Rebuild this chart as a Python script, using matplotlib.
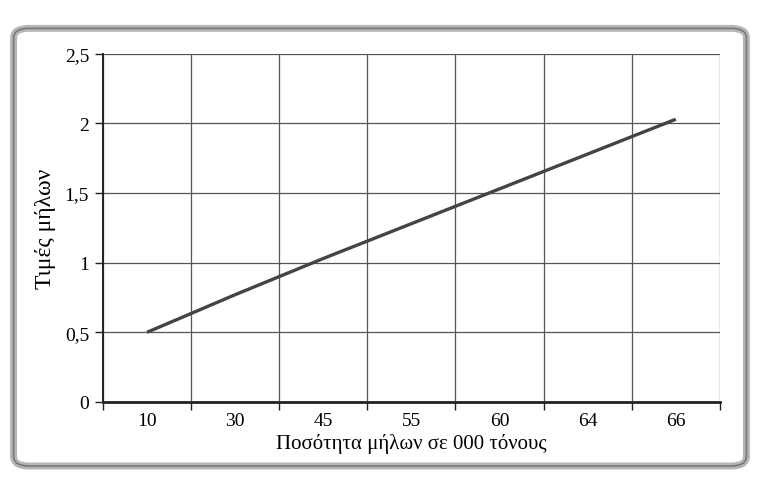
import matplotlib
matplotlib.use("Agg")
import matplotlib.pyplot as plt
from matplotlib.patches import FancyBboxPatch
from matplotlib.ticker import FuncFormatter, FixedLocator, NullFormatter

# Apple quantity (thousand tonnes) and apple prices
quantities = ["10", "30", "45", "55", "60", "64", "66"]
prices = [0.5, 0.77, 1.03, 1.28, 1.53, 1.78, 2.03]
y_ticks = [0, 0.5, 1, 1.5, 2, 2.5]

plt.rcParams["font.family"] = ["Liberation Serif", "DejaVu Serif"]

fig = plt.figure(figsize=(7.57, 4.89), dpi=100)
fig.patch.set_facecolor("white")

# rounded outer frame of the chart box
frame_shadow = FancyBboxPatch((0.018, 0.045), 0.968, 0.895,
                              boxstyle="round,pad=0,rounding_size=0.02",
                              transform=fig.transFigure, fill=False,
                              edgecolor="#b5b5b5", linewidth=5, zorder=0)
frame = FancyBboxPatch((0.018, 0.045), 0.968, 0.895,
                       boxstyle="round,pad=0,rounding_size=0.02",
                       transform=fig.transFigure, fill=False,
                       edgecolor="#7a7a7a", linewidth=1.2, zorder=1)
fig.patches.extend([frame_shadow, frame])

ax = fig.add_axes([0.136, 0.176, 0.815, 0.712])
x = list(range(len(quantities)))
ax.plot(x, prices, color="#444444", linewidth=2.4, solid_capstyle="butt", zorder=3)

ax.set_xlim(-0.5, len(quantities) - 0.5)
ax.set_ylim(0, 2.5)

# category axis: labels at centres, ticks and gridlines at boundaries
ax.set_xticks(x)
ax.set_xticklabels(quantities)
ax.tick_params(axis="x", which="major", length=0, pad=7, labelsize=14)
bounds = [i - 0.5 for i in range(len(quantities) + 1)]
ax.xaxis.set_minor_locator(FixedLocator(bounds))
ax.xaxis.set_minor_formatter(NullFormatter())
ax.tick_params(axis="x", which="minor", length=6, width=1.0, direction="out", color="#222222")
ax.grid(True, axis="x", which="minor", color="#555555", linewidth=0.9)

ax.set_yticks(y_ticks)
ax.yaxis.set_major_formatter(FuncFormatter(lambda v, p: f"{v:g}".replace(".", ",")))
ax.tick_params(axis="y", length=6, width=1.0, direction="out", labelsize=14, pad=4, color="#222222")
ax.grid(True, axis="y", which="major", color="#555555", linewidth=0.9)
ax.set_axisbelow(True)

for side in ("top", "right"):
    ax.spines[side].set_visible(False)
ax.spines["left"].set_linewidth(1.4)
ax.spines["left"].set_color("#222222")
ax.spines["bottom"].set_linewidth(2.0)
ax.spines["bottom"].set_color("#222222")

ax.set_xlabel("Ποσότητα μήλων σε 000 τόνους", fontsize=15, labelpad=3)
ax.set_ylabel("Τιμές μήλων", fontsize=17, labelpad=6)

fig.savefig("out.png", dpi=100, facecolor="white")
